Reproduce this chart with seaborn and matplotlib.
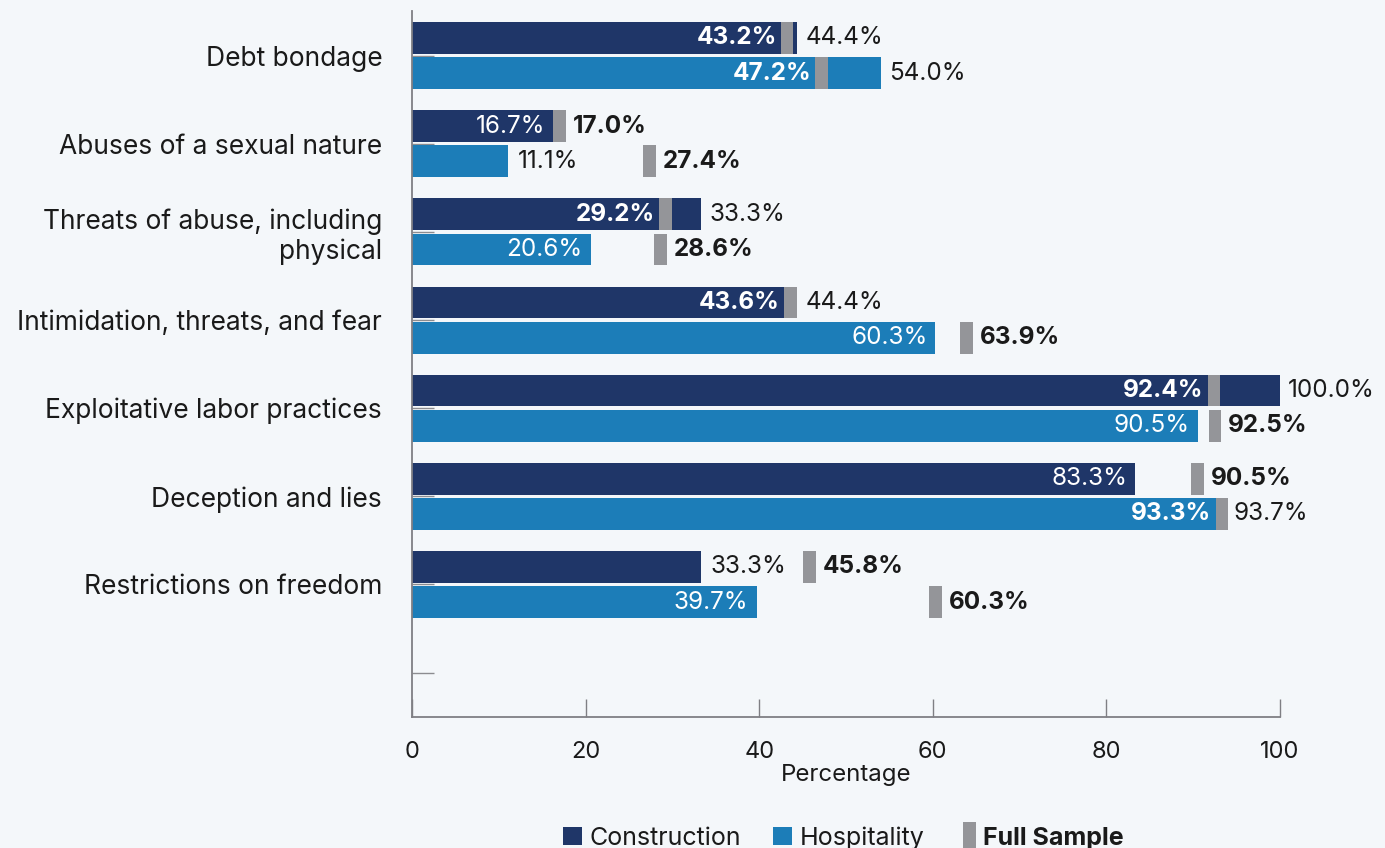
import matplotlib
matplotlib.use("Agg")
import matplotlib.pyplot as plt
import matplotlib.patches as mpatches
from matplotlib.legend_handler import HandlerPatch
import seaborn as sns
import pandas as pd

# ---------------- data ----------------
categories = ["Debt bondage", "Abuses of a sexual nature",
              "Threats of abuse, including\nphysical",
              "Intimidation, threats, and fear", "Exploitative labor practices",
              "Deception and lies", "Restrictions on freedom"]
series = ["Construction", "Hospitality"]
construction = [44.4, 16.7, 33.3, 44.4, 100.0, 83.3, 33.3]
hospitality = [54.0, 11.1, 20.6, 60.3, 90.5, 93.7, 39.7]
full_construction = [43.2, 17.0, 29.2, 43.6, 92.4, 90.5, 45.8]
full_hospitality = [47.2, 27.4, 28.6, 63.9, 92.5, 93.3, 60.3]
# whether the bar's own value label sits inside the bar (when full sample is larger)
inside_construction = [False, True, False, False, False, True, False]
inside_hospitality = [False, False, True, True, True, False, True]
xticks = [0, 20, 40, 60, 80, 100]

# ---------------- style ----------------
BG = "#f4f7fa"
C_CON = "#1f3668"
C_HOS = "#1c7db8"
C_FULL = "#949599"
TXT = "#1a1a1a"
AX = "#7f7f84"
FS_VAL = 17.5

sns.set_theme(style="white")
plt.rcParams["font.family"] = ["Inter", "DejaVu Sans"]

df = pd.DataFrame({
    "Category": categories * 2,
    "Sector": [series[0]] * len(categories) + [series[1]] * len(categories),
    "Value": construction + hospitality,
})

fig = plt.figure(figsize=(13.85, 8.48), dpi=100, facecolor=BG)
ax = fig.add_axes([412 / 1385, 1 - 717 / 848, (1280 - 412) / 1385, (717 - 11) / 848])
ax.set_facecolor(BG)

sns.barplot(data=df, y="Category", x="Value", hue="Sector", order=categories,
            hue_order=series, palette=[C_CON, C_HOS], orient="h",
            width=0.8, gap=0.1, saturation=1, linewidth=0, ax=ax, legend=False)

MW = 1.46  # marker width in data units
px = 100 / 868.0  # one pixel in data units

for s_idx, (vals, fulls, inside) in enumerate([
        (construction, full_construction, inside_construction),
        (hospitality, full_hospitality, inside_hospitality)]):
    off = -0.2 if s_idx == 0 else 0.2
    ys = [i + off for i in range(len(categories))]
    ax.barh(ys, [MW] * len(fulls), left=[f - MW / 2 for f in fulls],
            height=0.36, color=C_FULL, linewidth=0, zorder=4)
    for y, v, f, ins in zip(ys, vals, fulls, inside):
        if f < v:
            ax.text(f - MW / 2 - 4 * px, y, f"{f:.1f}%", ha="right", va="center",
                    color="white", fontsize=FS_VAL, fontweight="bold", zorder=5)
            ax.text(v + 8 * px, y, f"{v:.1f}%", ha="left", va="center",
                    color=TXT, fontsize=FS_VAL, zorder=5)
        else:
            if ins:
                ax.text(min(v, f - MW / 2) - 8 * px, y, f"{v:.1f}%", ha="right",
                        va="center", color="white", fontsize=FS_VAL, zorder=5)
            else:
                ax.text(v + 9 * px, y, f"{v:.1f}%", ha="left", va="center",
                        color=TXT, fontsize=FS_VAL, zorder=5)
            ax.text(f + MW / 2 + 7 * px, y, f"{f:.1f}%", ha="left", va="center",
                    color=TXT, fontsize=FS_VAL, fontweight="bold", zorder=5)

ax.set_xlim(0, 100)
ax.set_ylim(7.503, -0.505)
ax.set_xticks(xticks)
ax.set_xticklabels([str(t) for t in xticks])
ax.set_yticks(range(len(categories) + 1))
ax.set_yticklabels(categories + [""])
ax.tick_params(axis="y", left=True, direction="in", length=15.8, width=1.0,
               color="#8c8c90", pad=21.5, labelsize=19, labelcolor=TXT)
ax.tick_params(axis="x", bottom=True, direction="in", length=12.7, width=1.0,
               color=AX, pad=17, labelsize=17, labelcolor=TXT)
ax.set_ylabel("")
ax.set_xlabel("Percentage", fontsize=17.3, color=TXT, labelpad=1)
for side in ["top", "right"]:
    ax.spines[side].set_visible(False)
for side in ["left", "bottom"]:
    ax.spines[side].set_color(AX)
    ax.spines[side].set_linewidth(1.3)


def narrow_patch(legend, orig_handle, xdescent, ydescent, width, height, fontsize):
    return mpatches.Rectangle((-xdescent + width * 0.3, -ydescent - height * 0.25),
                              width * 0.7, height * 1.5)


handles = [mpatches.Patch(color=C_CON, linewidth=0), mpatches.Patch(color=C_HOS, linewidth=0),
           mpatches.Patch(color=C_FULL, linewidth=0)]
leg = fig.legend(handles, ["Construction", "Hospitality", "Full Sample"],
                 loc="center", bbox_to_anchor=(0.609, 0.012), ncol=3,
                 frameon=False, fontsize=18, handlelength=0.75, handleheight=0.75,
                 handletextpad=0.3, columnspacing=1.3,
                 handler_map={handles[2]: HandlerPatch(patch_func=narrow_patch)})
for t in leg.get_texts():
    t.set_color(TXT)
leg.get_texts()[2].set_fontweight("bold")

fig.savefig("out.png", dpi=100, facecolor=BG)
